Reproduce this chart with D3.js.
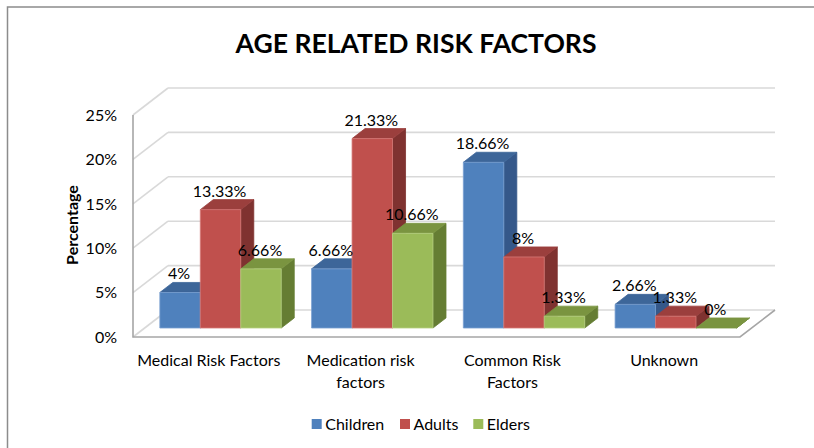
<!DOCTYPE html>
<html>
<head>
<meta charset="utf-8">
<script src="https://cdn.jsdelivr.net/npm/d3@7"></script>
<style>
  body { margin: 0; background: #fff; }
  svg { display: block; }
  text { font-family: Lato, "Liberation Sans", sans-serif; fill: #000; }
</style>
</head>
<body>
<svg id="chart" width="814" height="448"></svg>
<script>
// ---- data ----
const categories = ["Medical Risk Factors", "Medication risk\nfactors", "Common Risk\nFactors", "Unknown"];
const series = ["Children", "Adults", "Elders"];
const children = [4, 6.66, 18.66, 2.66];
const adults = [13.33, 21.33, 8, 1.33];
const elders = [6.66, 10.66, 1.33, 0];
const yTicks = [0, 5, 10, 15, 20, 25];
const titleText = "AGE RELATED RISK FACTORS";
const yTitle = "Percentage";

const seriesValues = [children, adults, elders];
// front, top, side face colours per series
const palette = [
  { front: "#4f81bd", top: "#3d6699", side: "#35588a", edge: "#7aa0d0" },
  { front: "#c0504d", top: "#9b3f3d", side: "#7f3230", edge: "#d57a77" },
  { front: "#9bbb59", top: "#7a9440", side: "#657d33", edge: "#b6cf82" }
];

const FS = 16;
const svg = d3.select("#chart");

// outer chart frame
svg.append("rect")
  .attr("x", 7.5).attr("y", 7).attr("width", 830).attr("height", 460)
  .attr("fill", "#fff").attr("stroke", "#8c8c8c").attr("stroke-width", 1.5);

// title
svg.append("text")
  .attr("x", 416).attr("y", 52.5)
  .attr("text-anchor", "middle")
  .attr("font-size", 27).attr("font-weight", 700)
  .attr("textLength", 361).attr("lengthAdjust", "spacingAndGlyphs")
  .text(titleText);

// ---- 3D projection ----
const DX = 35, DY = -27;           // full depth offset of the plot box
const P = (x, y, d) => [x + DX * d, y + DY * d];
const barFront = 0.333, barBack = 0.705;

const x0 = d3.scaleBand().domain(categories).range([133, 740])
  .paddingInner(0.2).paddingOuter(0.1);
const x1 = d3.scaleBand().domain(series).range([0, x0.bandwidth()]);
const y = d3.scaleLinear().domain([0, 25]).range([337, 115]);

const left = x0.range()[0], right = x0.range()[1];
const line = d3.line();

// floor
const floorPts = [P(left, y(0), 0), P(right, y(0), 0), P(right, y(0), 1), P(left, y(0), 1)];
svg.append("path").attr("d", line(floorPts) + "Z").attr("fill", "#fff").attr("stroke", "none");

// gridlines on back wall and side wall
const grid = svg.append("g").attr("stroke", "#d9d9d9").attr("stroke-width", 1.6).attr("fill", "none");
yTicks.forEach(t => {
  grid.append("path").attr("d", line([P(left, y(t), 1), P(right, y(t), 1)]));
  grid.append("path").attr("d", line([P(left, y(t), 0), P(left, y(t), 1)]));
});

// floor edges and vertical axis line
const axisG = svg.append("g").attr("stroke", "#a6a6a6").attr("stroke-width", 1.6).attr("fill", "none");
axisG.append("path").attr("d", line([P(left, y(25), 0), P(left, y(0), 0), P(right, y(0), 0), P(right, y(0), 1)]));

// y tick labels
svg.append("g").selectAll("text").data(yTicks).join("text")
  .attr("x", 117).attr("y", d => y(d)).attr("dy", "0.36em")
  .attr("text-anchor", "end").attr("font-size", FS)
  .text(d => d + "%");

// y axis title
svg.append("text")
  .attr("transform", "translate(78,225) rotate(-90)")
  .attr("text-anchor", "middle").attr("font-size", FS).attr("font-weight", 700)
  .text(yTitle);

// bars
const bars = svg.append("g");
const labels = [];
categories.forEach((cat, i) => {
  series.forEach((s, j) => {
    const v = seriesValues[j][i];
    const c = palette[j];
    const xl = x0(cat) + x1(s), xr = xl + x1.bandwidth();
    const yt = y(v), yb = y(0);
    const g = bars.append("g").attr("stroke-width", 0.8).attr("stroke-linejoin", "round");
    g.append("path")
      .attr("d", line([P(xr, yt, barFront), P(xr, yb, barFront), P(xr, yb, barBack), P(xr, yt, barBack)]) + "Z")
      .attr("fill", c.side).attr("stroke", c.side);
    g.append("path")
      .attr("d", line([P(xl, yt, barFront), P(xr, yt, barFront), P(xr, yt, barBack), P(xl, yt, barBack)]) + "Z")
      .attr("fill", c.top).attr("stroke", c.top);
    if (v > 0) {
      g.append("path")
        .attr("d", line([P(xl, yt, barFront), P(xr, yt, barFront), P(xr, yb, barFront), P(xl, yb, barFront)]) + "Z")
        .attr("fill", c.front).attr("stroke", c.edge);
    }
    const f = P((xl + xr) / 2, yt, barBack);
    labels.push({ x: P((xl + xr) / 2, yt, barFront)[0] - 1, y: f[1] - 3, text: v + "%" });
  });
});

// value labels
svg.append("g").selectAll("text").data(labels).join("text")
  .attr("x", d => d.x).attr("y", d => d.y)
  .attr("text-anchor", "middle").attr("font-size", FS)
  .text(d => d.text);

// category labels
const catG = svg.append("g");
categories.forEach(cat => {
  const cx = x0(cat) + x0.bandwidth() / 2;
  const t = catG.append("text").attr("x", cx).attr("y", 365.5)
    .attr("text-anchor", "middle").attr("font-size", FS);
  cat.split("\n").forEach((ln, k) => {
    t.append("tspan").attr("x", cx).attr("dy", k === 0 ? 0 : 22.5).text(ln);
  });
});

// legend
const legendX = [311.7, 400, 473.3];
const lg = svg.append("g");
series.forEach((s, j) => {
  lg.append("rect").attr("x", legendX[j]).attr("y", 419).attr("width", 10).attr("height", 10)
    .attr("fill", palette[j].front);
  lg.append("text").attr("x", legendX[j] + 13.5).attr("y", 429.5).attr("font-size", FS).text(s);
});
</script>
</body>
</html>
